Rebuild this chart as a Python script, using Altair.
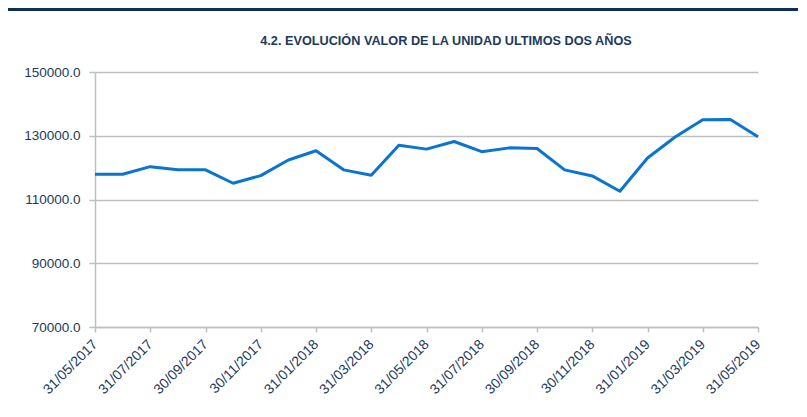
import altair as alt
import pandas as pd

fechas = [
    "31/05/2017", "30/06/2017", "31/07/2017", "31/08/2017", "30/09/2017",
    "31/10/2017", "30/11/2017", "31/12/2017", "31/01/2018", "28/02/2018",
    "31/03/2018", "30/04/2018", "31/05/2018", "30/06/2018", "31/07/2018",
    "31/08/2018", "30/09/2018", "31/10/2018", "30/11/2018", "31/12/2018",
    "31/01/2019", "28/02/2019", "31/03/2019", "30/04/2019", "31/05/2019",
]
valores = [
    117900, 117900, 120300, 119300, 119300,
    115100, 117500, 122400, 125300, 119300,
    117600, 127000, 125800, 128200, 125000,
    126200, 126000, 119300, 117400, 112600,
    123000, 129600, 135000, 135100, 129700,
]
etiquetas_x = fechas[::2]
ticks_y = [70000, 90000, 110000, 130000, 150000]
titulo = "4.2. EVOLUCIÓN VALOR DE LA UNIDAD ULTIMOS DOS AÑOS"

df = pd.DataFrame({"fecha": fechas, "valor": valores})

NAVY = "#1B3A5E"
GRID = "#BFBFBF"
FONT = "Liberation Sans"

line = alt.Chart(df).mark_line(color="#0A74D0", strokeWidth=3, strokeJoin="round").encode(
    x=alt.X(
        "fecha:O",
        sort=fechas,
        scale=alt.Scale(type="point", padding=0),
        axis=alt.Axis(
            values=etiquetas_x,
            title=None,
            labelAngle=-45,
            labelAlign="right",
            labelBaseline="middle",
            labelFont=FONT,
            labelFontSize=14,
            labelColor=NAVY,
            labelPadding=10,
            tickColor=GRID,
            tickSize=5,
            tickWidth=1.5,
            domainColor=GRID,
            domainWidth=1.5,
            grid=False,
        ),
    ),
    y=alt.Y(
        "valor:Q",
        scale=alt.Scale(domain=[70000, 150000], nice=False, zero=False),
        axis=alt.Axis(
            values=ticks_y,
            format=".1f",
            title=None,
            labelFont=FONT,
            labelFontSize=13.5,
            labelColor=NAVY,
            labelPadding=9,
            tickColor=GRID,
            tickSize=6,
            tickWidth=1.5,
            domainColor=GRID,
            domainWidth=1.5,
            grid=True,
            gridColor=GRID,
            gridWidth=1.5,
        ),
    ),
)

borde = alt.Chart(df).mark_rule(color="#0E2F56", strokeWidth=2.5).encode(
    x=alt.value(-87), x2=alt.value(704), y=alt.value(-63)
)

encabezado = alt.Chart(pd.DataFrame({"t": [titulo]})).mark_text(
    font=FONT, fontSize=12.7, fontWeight="bold", color=NAVY,
    align="center", baseline="alphabetic",
).encode(text="t:N", x=alt.value(351), y=alt.value(-27))

chart = alt.layer(line, borde, encabezado).properties(
    width=663,
    height=255,
    padding={"left": 87, "top": 64, "right": 40, "bottom": 80},
    autosize=alt.AutoSizeParams(type="none"),
).configure_view(stroke=None)

chart.save("out.html", embed_options={"renderer": "svg", "actions": False})
